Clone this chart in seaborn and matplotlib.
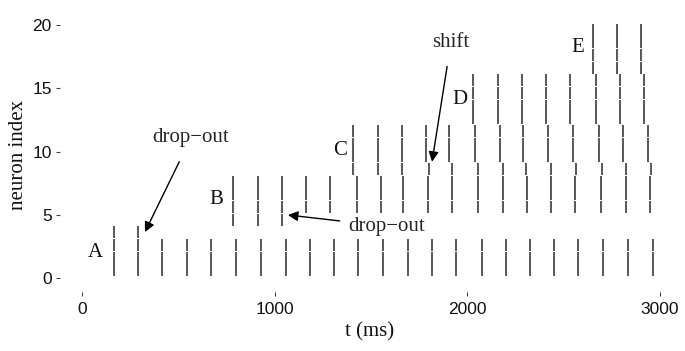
import matplotlib as mpl
mpl.use('agg')
import matplotlib.pyplot as plt
import pandas as pd
import seaborn as sns

times_A = [166, 292, 417, 543, 668, 799, 931, 1057, 1183, 1308, 1434, 1564,
           1690, 1815, 1941, 2075, 2199, 2325, 2450, 2576, 2706, 2835, 2965]
times_B = [785, 912, 1037, 1161, 1286, 1426, 1553, 1668, 1794, 1919, 2057,
           2184, 2308, 2433, 2559, 2692, 2822, 2948]
times_C = [1408, 1538, 1659, 1785, 1906, 2040, 2170, 2290, 2420, 2550, 2685,
           2809, 2939]
times_D = [2031, 2158, 2282, 2408, 2533, 2666, 2792, 2918]
times_E = [2651, 2775, 2901]

groups = ['A', 'B', 'C', 'D', 'E']
group_times = [times_A, times_B, times_C, times_D, times_E]
neurons_per_group = 4

# neuron 3 stops after 2 spikes, neuron 4 after 3 spikes
dropout_neurons = {3: 2, 4: 3}
# neuron 8 fires late from its 4th spike on
shift_neuron = 8
shift_from = 3
shift_ms = 14

rows = []
for g, (name, ts) in enumerate(zip(groups, group_times)):
    for k in range(neurons_per_group):
        n = g * neurons_per_group + k
        spikes = ts[:dropout_neurons[n]] if n in dropout_neurons else ts
        for i, t in enumerate(spikes):
            if n == shift_neuron and i >= shift_from:
                t = t + shift_ms
            rows.append({'t': t, 'neuron': n, 'group': name})
df = pd.DataFrame(rows)

label_pos = {'A': (67, 2.0), 'B': (695, 6.2), 'C': (1339, 10.1),
             'D': (1962, 14.1), 'E': (2574, 18.2)}

sns.set_theme(style='white')
plt.rcParams['font.family'] = ['Liberation Sans', 'DejaVu Sans']
serif = ['Liberation Serif', 'DejaVu Serif']

fig = plt.figure(figsize=(6.85, 3.51), dpi=100)
ax = fig.add_axes([60 / 685, (351 - 292) / 351, 619 / 685, (292 - 18.6) / 351])

# tick marks sit a bit above each integer index
df['y'] = df['neuron'] + 0.62
sns.scatterplot(data=df, x='t', y='y', marker='|', s=63, color='#2a2a2a',
                linewidth=1.1, legend=False, ax=ax)

ax.set_xlim(-114, 3099)
ax.set_ylim(-1.08, 20.5)
sns.despine(ax=ax, left=True, bottom=True)
ax.set_xticks([0, 1000, 2000, 3000])
ax.set_yticks([0, 5, 10, 15, 20])
ax.tick_params(axis='both', bottom=True, left=True, length=3, width=0.8,
               color='#444', labelsize=12.5, labelcolor='#111')
ax.tick_params(axis='x', pad=4)
ax.tick_params(axis='y', pad=3)

ax.set_xlabel('t (ms)', family=serif, fontsize=15, labelpad=4, color='#111')
ax.set_ylabel('neuron index', family=serif, fontsize=15, labelpad=3, color='#111')

for name, (x, y) in label_pos.items():
    ax.text(x, y, name, family=serif, fontsize=15, ha='center', va='center', color='#111')

arrow = dict(arrowstyle='-|>', color='black', lw=1.0, mutation_scale=15, shrinkA=0, shrinkB=0)
ax.annotate('drop\u2212out', xy=(327, 3.65), xytext=(566, 11.1), family=serif,
            fontsize=15, ha='center', va='center', arrowprops=dict(arrow, shrinkA=9))
ax.annotate('drop\u2212out', xy=(1069, 5.0), xytext=(1583, 4.1), family=serif,
            fontsize=15, ha='center', va='center',
            arrowprops=dict(arrow, shrinkA=4))
ax.annotate('shift', xy=(1817, 9.2), xytext=(1915, 18.6), family=serif,
            fontsize=15, ha='center', va='center', arrowprops=dict(arrow, shrinkA=8))

plt.savefig('out.png', dpi=100)
